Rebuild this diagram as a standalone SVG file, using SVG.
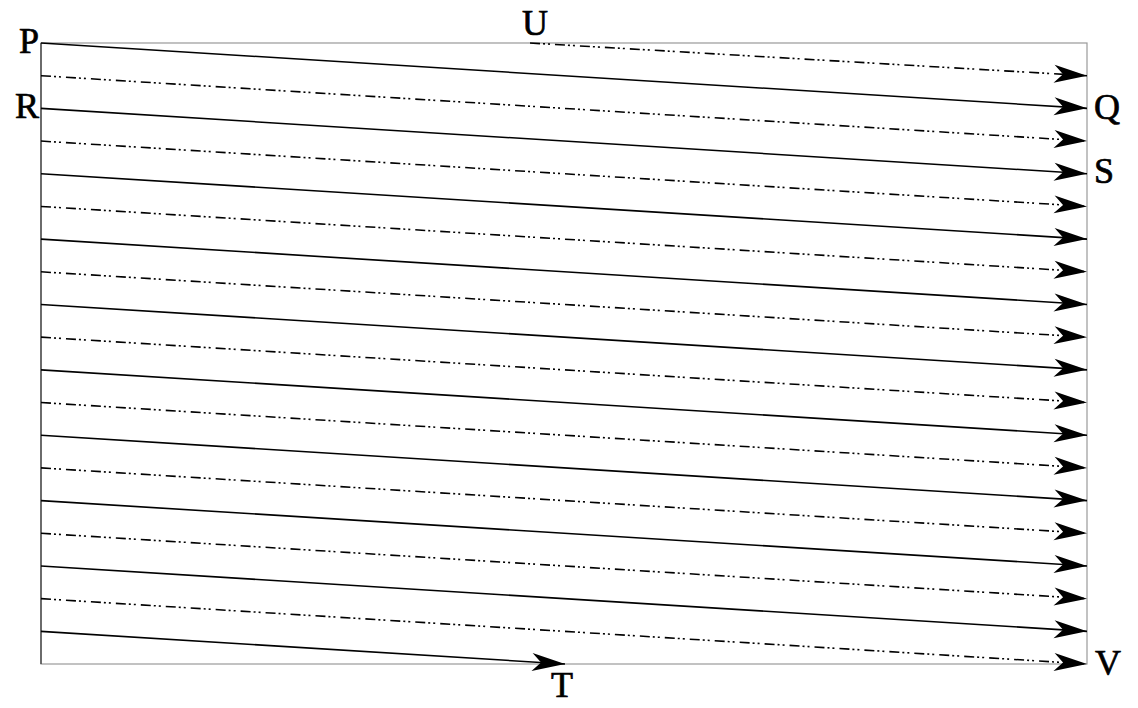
<svg xmlns="http://www.w3.org/2000/svg" width="1138" height="708" viewBox="0 0 1138 708">
<style>
.s{stroke:#000;stroke-width:1.6;fill:none;marker-end:url(#ah)}
.d{stroke:#000;stroke-width:1.6;fill:none;stroke-dasharray:10 3 2 3 2 5;marker-end:url(#ah)}
.lbl{font-family:"Liberation Serif","Times New Roman",serif;font-size:36px;fill:#000;stroke:#000;stroke-width:0.7}
</style>
<defs>
<marker id="ah" markerUnits="userSpaceOnUse" markerWidth="40" markerHeight="24" viewBox="-36 -12 40 24" refX="0" refY="0" orient="auto">
<path d="M0,0 L-33,-9 L-24,0 L-33,9 Z" fill="#000"/>
</marker>
</defs>
<g id="frame">
<rect x="41" y="43" width="1046" height="621" fill="none" stroke="#999" stroke-width="1.2"/>
<line x1="41" y1="43" x2="41" y2="664" stroke="#333" stroke-width="1.2"/>
</g>
<g id="connectors">
<line class="s" x1="41" y1="43" x2="1087" y2="108.37"/>
<line class="s" x1="41" y1="108.37" x2="1087" y2="173.74"/>
<line class="s" x1="41" y1="173.74" x2="1087" y2="239.11"/>
<line class="s" x1="41" y1="239.11" x2="1087" y2="304.48"/>
<line class="s" x1="41" y1="304.48" x2="1087" y2="369.85"/>
<line class="s" x1="41" y1="369.85" x2="1087" y2="435.22"/>
<line class="s" x1="41" y1="435.22" x2="1087" y2="500.59"/>
<line class="s" x1="41" y1="500.59" x2="1087" y2="565.96"/>
<line class="s" x1="41" y1="565.96" x2="1087" y2="631.33"/>
<line class="s" x1="41" y1="631.33" x2="565" y2="664"/>
<line class="d" x1="530" y1="43" x2="1087" y2="75.69"/>
<line class="d" x1="41" y1="75.69" x2="1087" y2="141.06"/>
<line class="d" x1="41" y1="141.06" x2="1087" y2="206.43"/>
<line class="d" x1="41" y1="206.43" x2="1087" y2="271.8"/>
<line class="d" x1="41" y1="271.8" x2="1087" y2="337.17"/>
<line class="d" x1="41" y1="337.17" x2="1087" y2="402.54"/>
<line class="d" x1="41" y1="402.54" x2="1087" y2="467.91"/>
<line class="d" x1="41" y1="467.91" x2="1087" y2="533.28"/>
<line class="d" x1="41" y1="533.28" x2="1087" y2="598.65"/>
<line class="d" x1="41" y1="598.65" x2="1087" y2="664"/>
</g>
<g id="P"><text class="lbl" x="39" y="53" text-anchor="end">P</text></g>
<g id="R"><text class="lbl" x="39" y="118" text-anchor="end">R</text></g>
<g id="U"><text class="lbl" x="535" y="35" text-anchor="middle">U</text></g>
<g id="Q"><text class="lbl" x="1094" y="119">Q</text></g>
<g id="S"><text class="lbl" x="1094" y="183">S</text></g>
<g id="V"><text class="lbl" x="1095" y="675">V</text></g>
<g id="T"><text class="lbl" x="562" y="697" text-anchor="middle">T</text></g>
</svg>
